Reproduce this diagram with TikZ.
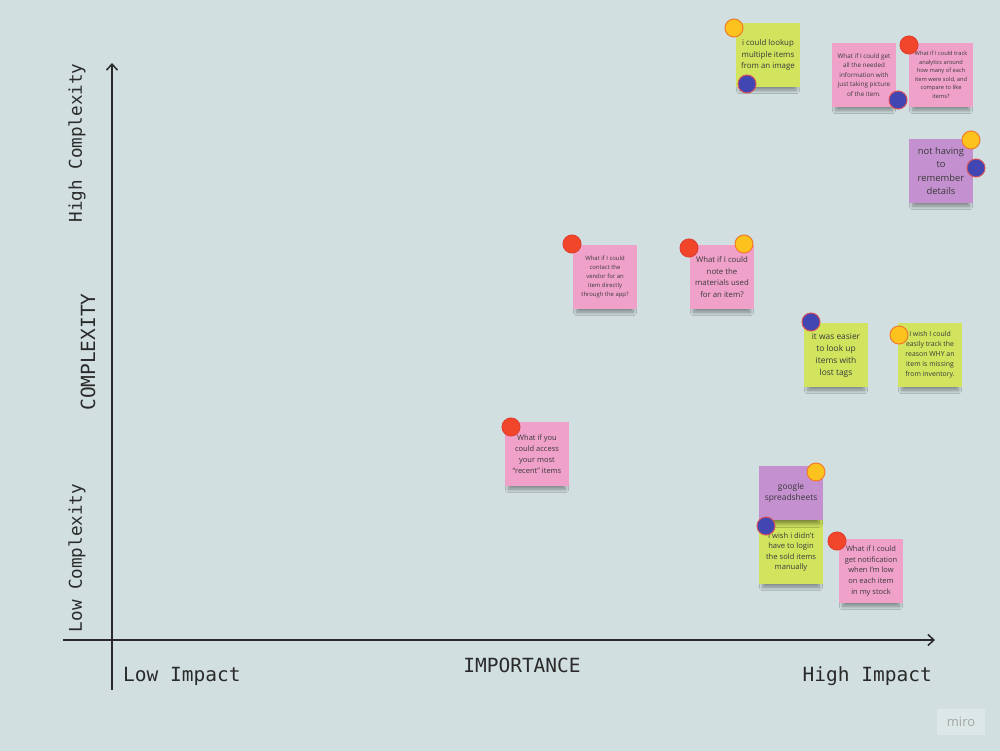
\documentclass[tikz,border=0pt]{standalone}
\usepackage{fontspec}
\setmainfont{Open Sans}
\newfontfamily\axisfont{DejaVu Sans Mono}
\usetikzlibrary{arrows.meta,shadows.blur}
\definecolor{boardbg}{HTML}{D1DFE1}
\definecolor{stickgreen}{HTML}{D2E45E}
\definecolor{stickpink}{HTML}{F0A1CA}
\definecolor{stickviolet}{HTML}{C490D0}
\definecolor{dotyellow}{HTML}{FCC21E}
\definecolor{dotyellowrim}{HTML}{F07A2C}
\definecolor{dotred}{HTML}{F2462A}
\definecolor{dotredrim}{HTML}{E0402E}
\definecolor{dotblue}{HTML}{4246B2}
\definecolor{dotbluerim}{HTML}{D4505A}
\definecolor{inkdark}{HTML}{2A2A2A}
\definecolor{notetext}{HTML}{3A3A3A}
\tikzset{
  sticky/.style={rectangle, minimum width=64pt, minimum height=64pt,
    inner sep=0pt, align=center, text=notetext,
    blur shadow={shadow xshift=0pt, shadow yshift=-8pt, shadow scale=0.88,
      shadow opacity=40, shadow blur radius=4pt, shadow blur steps=8}},
  axisline/.style={draw=inkdark, line width=1.5pt},
  axislabel/.style={font=\axisfont\fontsize{19.5}{22}\selectfont, text=inkdark, inner sep=0pt},
  axislabelsm/.style={font=\axisfont\fontsize{17.6}{20}\selectfont, text=inkdark, inner sep=0pt},
  pin/.style={circle, minimum size=18pt, inner sep=0pt, line width=1pt},
  pinyellow/.style={pin, fill=dotyellow, draw=dotyellowrim},
  pinred/.style={pin, fill=dotred, draw=dotredrim},
  pinblue/.style={pin, fill=dotblue, draw=dotbluerim},
}
\newcommand{\fs}[2]{\fontsize{#1}{#2}\selectfont}
\begin{document}
\begin{tikzpicture}[x=1pt, y=-1pt]
  % board
  \fill[boardbg] (0,0) rectangle (1000,751);
  \useasboundingbox (0,0) rectangle (1000,751);

  % axes
  \coordinate (ybot) at (112,690);
  \coordinate (ytop) at (112,63);
  \coordinate (xleft) at (63,640);
  \coordinate (xright) at (935,640);
  \draw[axisline, -{Straight Barb[length=6pt,width=11pt]}] (ybot) -- (ytop);
  \draw[axisline, -{Straight Barb[length=6pt,width=11pt]}] (xleft) -- (xright);

  % axis labels
  \node[axislabel, anchor=west] (lowimp) at (123,676) {Low Impact};
  \node[axislabel, anchor=east] (highimp) at (932,676) {High Impact};
  \node[axislabel] (importance) at (522,665) {IMPORTANCE};
  \node[axislabel, rotate=90] (complexity) at (88,352) {COMPLEXITY};
  \node[axislabelsm, rotate=90] (highcx) at (77,143) {High Complexity};
  \node[axislabelsm, rotate=90] (lowcx) at (77,558) {Low Complexity};

  % sticky notes
  \node[sticky, fill=stickgreen, font=\fs{7.9}{11.4}] (lookup) at (768,55)
    {i could lookup\\multiple items\\from an image};
  \node[sticky, fill=stickpink, font=\fs{6.3}{9.4}] (picture) at (864,75)
    {What if I could get\\all the needed\\information with\\just taking picture\\of the item.};
  \node[sticky, fill=stickpink, font=\fs{5.7}{8.5}] (analytics) at (941,75)
    {What if I could track\\analytics around\\how many of each\\item were sold, and\\compare to like\\items?};
  \node[sticky, fill=stickviolet, font=\fs{9.4}{13.2}] (remember) at (941,171)
    {not having\\to\\remember\\details};
  \node[sticky, fill=stickpink, font=\fs{5.9}{9}] (vendor) at (605,277)
    {What if I could\\contact the\\vendor for an\\item directly\\through the app?};
  \node[sticky, fill=stickpink, font=\fs{7.8}{11.4}] (materials) at (722,277)
    {What if I could\\note the\\materials used\\for an item?};
  \node[sticky, fill=stickgreen, font=\fs{8.4}{12}] (losttags) at (836,355)
    {it was easier\\to look up\\items with\\lost tags};
  \node[sticky, fill=stickgreen, font=\fs{6.9}{10}] (missing) at (930,355)
    {I wish I could\\easily track the\\reason WHY an\\item is missing\\from inventory.};
  \node[sticky, fill=stickpink, font=\fs{7.5}{10.8}] (recent) at (537,454)
    {What if you\\could access\\your most\\``recent'' items};
  \node[sticky, fill=stickgreen, font=\fs{7.6}{10.6}] (login) at (791,552)
    {I wish i didn't\\have to login\\the sold items\\manually};
  \node[sticky, fill=stickviolet, minimum height=54pt, font=\fs{8.4}{11}] (sheets) at (791,493)
    {google\\spreadsheets};
  \node[sticky, fill=stickpink, font=\fs{7.5}{10.6}] (notify) at (871,571)
    {What if I could\\get notification\\when I'm low\\on each item\\in my stock};

  % voting dots
  \node[pinyellow] (d1) at (734,28) {};
  \node[pinblue] (d2) at (747,84) {};
  \node[pinblue] (d3) at (898,100) {};
  \node[pinred] (d4) at (909,45) {};
  \node[pinyellow] (d5) at (971,140) {};
  \node[pinblue] (d6) at (976,168) {};
  \node[pinred] (d7) at (572,244) {};
  \node[pinred] (d8) at (689,248) {};
  \node[pinyellow] (d9) at (744,244) {};
  \node[pinblue] (d10) at (811,322) {};
  \node[pinyellow] (d11) at (899,335) {};
  \node[pinred] (d12) at (511,427) {};
  \node[pinyellow] (d13) at (816,472) {};
  \node[pinblue] (d14) at (766,526) {};
  \node[pinred] (d15) at (837,541) {};

  % watermark
  \node[fill=white, fill opacity=0.25, text opacity=1, text=gray!70,
        minimum width=48pt, minimum height=26pt, inner sep=0pt,
        font=\fs{13}{14}] (logo) at (961,722) {miro};
\end{tikzpicture}
\end{document}
